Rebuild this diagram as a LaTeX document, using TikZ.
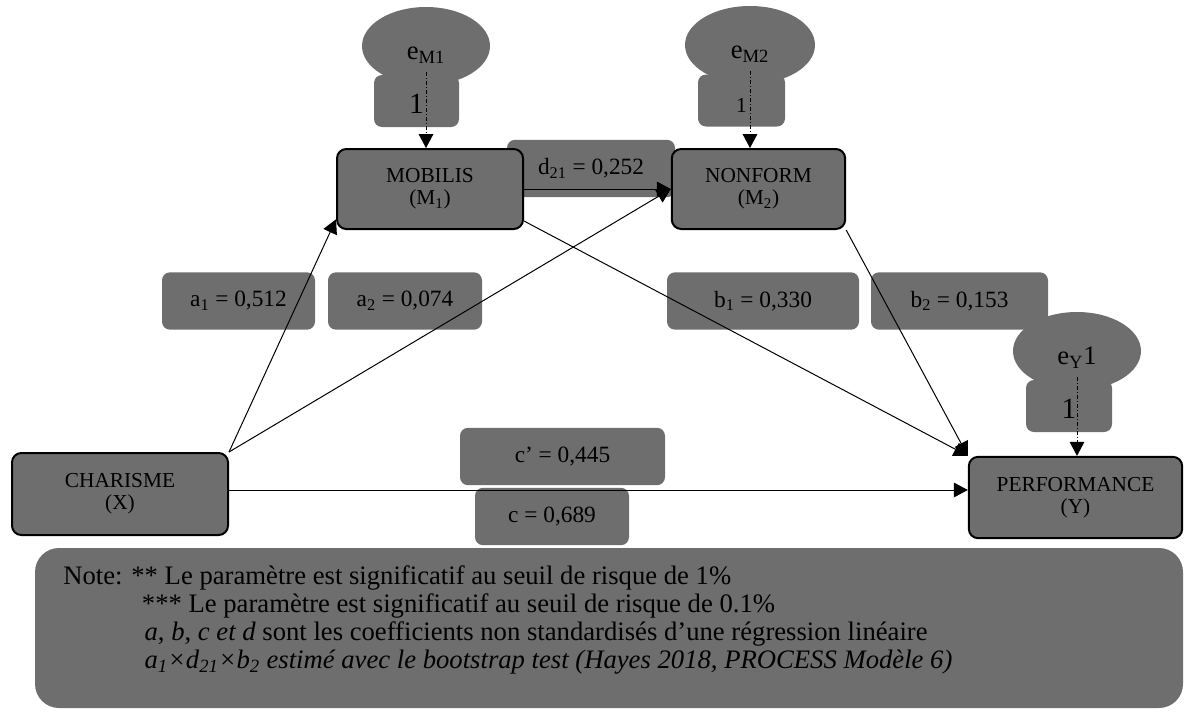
\documentclass[tikz,border=0pt]{standalone}
\usepackage{fontspec}
\setmainfont{Liberation Serif}
\usepackage{tikz}
\usetikzlibrary{shapes.geometric, arrows.meta, positioning}
\definecolor{boxgray}{RGB}{110,110,110}

\begin{document}
\begin{tikzpicture}[x=0.75pt, y=-0.75pt,
    var/.style={rectangle, rounded corners=7pt, draw, line width=1.5pt, fill=boxgray, align=center, inner sep=0pt, font=\fontsize{16}{16.5}\selectfont},
    coef/.style={rectangle, rounded corners=6pt, fill=boxgray, minimum height=43pt, inner sep=0pt, font=\fontsize{17.5}{19}\selectfont},
    err/.style={ellipse, fill=boxgray, minimum width=96pt, minimum height=58.5pt, inner sep=0pt, text height=20pt, text depth=0pt, font=\fontsize{20}{22}\selectfont},
    one/.style={rectangle, rounded corners=6pt, fill=boxgray, minimum width=64pt, minimum height=39pt, inner sep=0pt, text height=18pt, text depth=0pt, font=\fontsize{22}{24}\selectfont},
    arrow/.style={-{Triangle[length=10.5pt, width=11pt]}, line width=0.75pt},
    dasharrow/.style={arrow, dash pattern=on 3pt off 1.5pt on 0.75pt off 1.5pt}
]
\useasboundingbox (0,0) rectangle (1186,711);

% note
\node[rectangle, rounded corners=18pt, fill=boxgray, minimum width=861pt, minimum height=120pt] (note) at (609,628) {};
\node[anchor=north west, inner sep=0pt, align=left, font=\fontsize{20}{21}\selectfont] (notetext) at (63,565) {%
Note: ** Le paramètre est significatif au seuil de risque de 1\%\\
\hspace*{59pt}*** Le paramètre est significatif au seuil de risque de 0.1\%\\
\hspace*{61pt}\textit{a}, \textit{b}, \textit{c et d} sont les coefficients non standardisés d’une régression linéaire\\
\hspace*{61pt}\textit{a\textsubscript{1}×d\textsubscript{21}×b\textsubscript{2} estimé avec le bootstrap test (Hayes 2018, PROCESS Modèle 6)}};

% error terms
\node[err] (eM1) at (426,46) {e\textsubscript{M1}};
\node[one, minimum width=63.75pt] (oneM1) at (416.5,101) {1};
\node[err, minimum width=97.5pt] (eM2) at (750,45) {e\textsubscript{M2}};
\node[one, minimum width=65.25pt, font=\fontsize{16}{18}\selectfont] (oneM2) at (741.5,100.5) {1};
\node[err] (eY1) at (1077,351) {e\textsubscript{Y}1};
\node[one, minimum width=64.5pt] (oneY) at (1069,406) {1};

% coefficients
\node[coef, minimum width=114.75pt] (a1) at (238.5,301) {a\textsubscript{1} = 0,512};
\node[coef, minimum width=115.5pt] (a2) at (405,301) {a\textsubscript{2} = 0,074};
\node[coef, minimum width=144pt] (b1) at (763,301) {b\textsubscript{1} = 0,330};
\node[coef, minimum width=132.75pt] (b2) at (959.5,301) {b\textsubscript{2} = 0,153};
\node[coef, minimum width=126pt] (d21) at (591,168.5) {d\textsubscript{21} = 0,252};
\node[coef, minimum width=153.75pt] (cprime) at (562.5,456.5) {c’ = 0,445};
\node[coef, minimum width=115.5pt] (ctot) at (552,516.5) {c = 0,689};

% variables
\node[var, minimum width=162pt, minimum height=61.5pt] (charisme) at (120,494) {CHARISME\\(X)};
\node[var, minimum width=139.5pt, minimum height=60pt] (mobilis) at (430,189) {MOBILIS\\(M\textsubscript{1})};
\node[var, minimum width=130pt, minimum height=60pt] (nonform) at (758.5,189) {NONFORM\\(M\textsubscript{2})};
\node[var, minimum width=160pt, minimum height=61pt] (performance) at (1075.5,497.5) {PERFORMANCE\\(Y)};

\draw[dasharrow] ([yshift=-19.5pt]eM1.center) -- (eM1.center |- mobilis.north);
\draw[dasharrow] ([yshift=-19.5pt]eM2.center) -- (eM2.center |- nonform.north);
\draw[dasharrow] ([yshift=-19.5pt]eY1.center) -- (eY1.center |- performance.north);

\draw[arrow] (charisme.north east) -- ([yshift=8pt]mobilis.south west);
\draw[arrow] (charisme.north east) -- (nonform.west);
\draw[arrow] (mobilis.east) -- (nonform.west);
\draw[arrow] ([yshift=6.75pt]mobilis.south east) -- (performance.north west);
\draw[arrow] (nonform.south east) -- (performance.north west);
\draw[arrow] ([yshift=3pt]charisme.east) -- ([yshift=3pt]charisme.east -| performance.west);

\end{tikzpicture}
\end{document}
